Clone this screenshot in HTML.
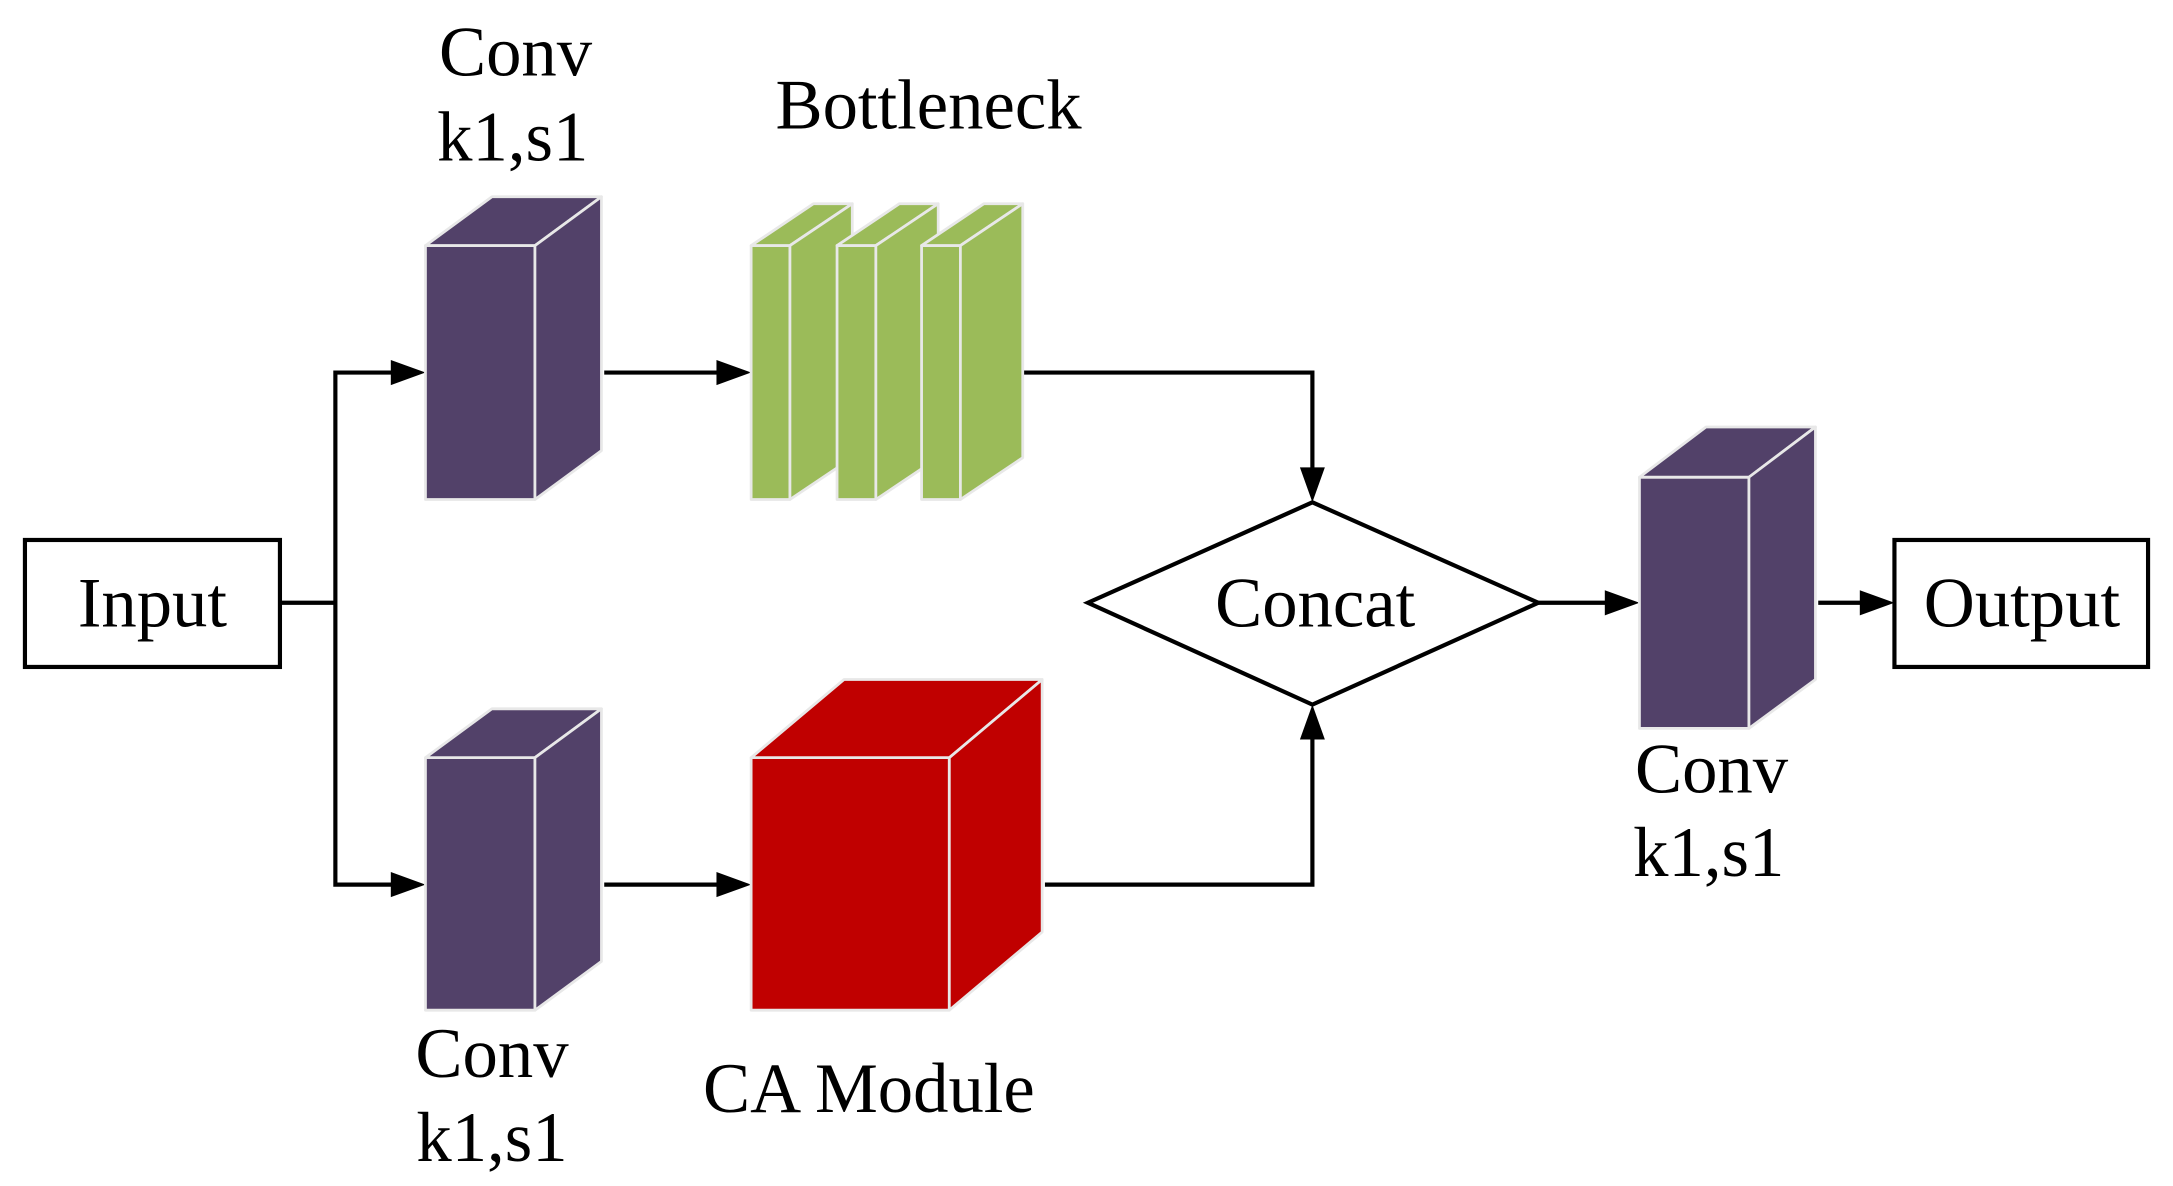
<!DOCTYPE html>
<html><head><meta charset="utf-8"><style>html,body{margin:0;padding:0;background:#fff;}svg{display:block}</style></head>
<body>
<svg width="2173" height="1186" viewBox="0 0 1568 850" preserveAspectRatio="none" xmlns="http://www.w3.org/2000/svg">
<g font-family="Liberation Serif, serif" font-size="51" fill="#000" text-anchor="middle">
<text x="372" y="54">Conv</text>
<text x="370" y="115">k1,s1</text>
<text x="670" y="92">Bottleneck</text>
<text x="110" y="449">Input</text>
<text x="949" y="449">Concat</text>
<text x="1459" y="449">Output</text>
<text x="355" y="772">Conv</text>
<text x="355" y="832">k1,s1</text>
<text x="627" y="797">CA Module</text>
<text x="1235" y="568">Conv</text>
<text x="1233" y="628">k1,s1</text>
</g>
<g fill="none" stroke="#000" stroke-width="3">
<rect x="18" y="387" width="184" height="91"/>
<rect x="1367" y="387" width="183" height="91"/>
<polygon points="785,432 947,360 1110,432 947,505"/>
<polyline points="202,432 242,432"/>
<polyline points="290,267 242,267 242,634 290,634"/>
<line x1="436" y1="267" x2="525" y2="267"/>
<line x1="436" y1="634" x2="525" y2="634"/>
<polyline points="738,267 947,267 947,342"/>
<polyline points="754,634 947,634 947,523"/>
<line x1="1110" y1="432" x2="1166" y2="432"/>
<line x1="1312" y1="432" x2="1350" y2="432"/>
</g>
<g fill="#000">
<polygon points="307,267 282,258 282,276"/>
<polygon points="307,634 282,625 282,643"/>
<polygon points="542,267 517,258 517,276"/>
<polygon points="542,634 517,625 517,643"/>
<polygon points="947,360 938,335 956,335"/>
<polygon points="947,505 938,530 956,530"/>
<polygon points="1183,432 1158,423 1158,441"/>
<polygon points="1367,432 1342,423 1342,441"/>
</g>
<g stroke="#e8e8e8" stroke-width="2" stroke-linejoin="round">
<g fill="#524169">
<rect x="307" y="176" width="79" height="182"/>
<polygon points="307,176 355,141 434,141 386,176"/>
<polygon points="386,176 434,141 434,323 386,358"/>
</g>
<g fill="#524169">
<rect x="307" y="543" width="79" height="181"/>
<polygon points="307,543 355,508 434,508 386,543"/>
<polygon points="386,543 434,508 434,689 386,724"/>
</g>
<g fill="#524169">
<rect x="1183" y="342" width="79" height="180"/>
<polygon points="1183,342 1231,306 1310,306 1262,342"/>
<polygon points="1262,342 1310,306 1310,487 1262,522"/>
</g>
<g fill="#9BBB59">
<rect x="542" y="176" width="28" height="182"/>
<polygon points="542,176 587,146 615,146 570,176"/>
<polygon points="570,176 615,146 615,328 570,358"/>
<rect x="604" y="176" width="28" height="182"/>
<polygon points="604,176 649,146 677,146 632,176"/>
<polygon points="632,176 677,146 677,328 632,358"/>
<rect x="665" y="176" width="28" height="182"/>
<polygon points="665,176 710,146 738,146 693,176"/>
<polygon points="693,176 738,146 738,328 693,358"/>
</g>
<g fill="#C00000">
<rect x="542" y="543" width="143" height="181"/>
<polygon points="542,543 609,487 752,487 685,543"/>
<polygon points="685,543 752,487 752,668 685,724"/>
</g>
</g>
</svg>
</body></html>
